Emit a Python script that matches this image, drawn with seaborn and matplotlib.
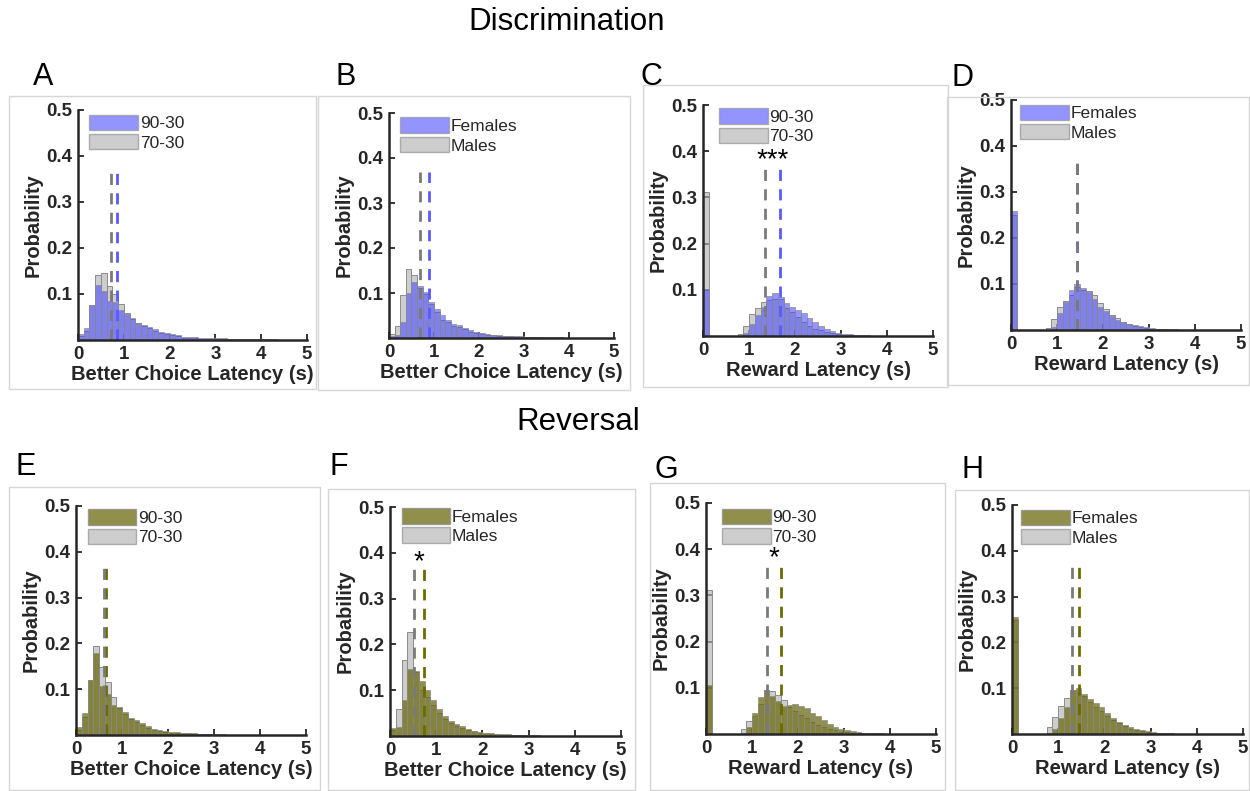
import numpy as np
import matplotlib
matplotlib.use('Agg')
from matplotlib import pyplot as plt
from matplotlib.patches import Patch, Rectangle
import seaborn as sns

sns.set_style('ticks')
plt.rcParams['font.family'] = ['Liberation Sans', 'DejaVu Sans']

# 40 bins of 0.125 s between 0 and 5 s
NBINS = 40
BINW = 0.125
CENTERS = BINW / 2 + BINW * np.arange(NBINS)


def pad(vals):
    return list(vals) + [0.0] * (NBINS - len(vals))


# --- Discrimination ---
A_9030 = pad([0.013, 0.026, 0.076, 0.120, 0.107, 0.085, 0.083, 0.065, 0.056, 0.047,
              0.038, 0.033, 0.028, 0.023, 0.018, 0.015, 0.012, 0.010, 0.007, 0.006,
              0.006, 0.005, 0.005, 0.004, 0.004, 0.004, 0.003, 0.003, 0.003, 0.003,
              0.002, 0.002, 0.002, 0.002, 0.002, 0.001, 0.001, 0.001, 0.001, 0.001])
A_7030 = pad([0.008, 0.020, 0.077, 0.141, 0.145, 0.118, 0.100, 0.078, 0.059, 0.045,
              0.036, 0.030, 0.026, 0.020, 0.016, 0.012, 0.010, 0.008, 0.005, 0.004,
              0.004, 0.003, 0.003, 0.002, 0.002, 0.002, 0.002, 0.001, 0.001, 0.001,
              0.001, 0.001, 0.001, 0.001])
B_fem = pad([0.004, 0.007, 0.036, 0.099, 0.124, 0.116, 0.102, 0.081, 0.064, 0.052,
             0.041, 0.031, 0.028, 0.023, 0.018, 0.013, 0.011, 0.009, 0.007, 0.006,
             0.005, 0.005, 0.004, 0.004, 0.003, 0.003, 0.003, 0.002, 0.002, 0.002,
             0.002, 0.001, 0.001, 0.001, 0.001, 0.001, 0.001, 0.001])
B_male = pad([0.008, 0.026, 0.096, 0.154, 0.141, 0.112, 0.097, 0.076, 0.058, 0.041,
              0.035, 0.027, 0.024, 0.019, 0.014, 0.011, 0.009, 0.007, 0.006, 0.005,
              0.004, 0.004, 0.003, 0.003, 0.002, 0.002, 0.002, 0.001, 0.001, 0.001,
              0.001, 0.001])
C_9030 = pad([0.102, 0, 0, 0, 0, 0, 0.001, 0.006, 0.025, 0.045,
              0.063, 0.087, 0.092, 0.085, 0.072, 0.062, 0.057, 0.049, 0.039, 0.031,
              0.022, 0.016, 0.011, 0.007, 0.005, 0.004, 0.003, 0.002, 0.002, 0.001,
              0.001, 0.001])
C_7030 = pad([0.312, 0, 0, 0, 0, 0, 0.004, 0.022, 0.047, 0.060,
              0.073, 0.078, 0.080, 0.081, 0.061, 0.052, 0.041, 0.031, 0.022, 0.016,
              0.012, 0.009, 0.006, 0.004, 0.003, 0.002, 0.001, 0.001, 0.001])
D_fem = pad([0.258, 0, 0, 0, 0, 0, 0, 0.007, 0.038, 0.060,
             0.086, 0.099, 0.091, 0.082, 0.067, 0.051, 0.041, 0.030, 0.022, 0.017,
             0.013, 0.010, 0.008, 0.006, 0.004, 0.003, 0.003, 0.002, 0.002, 0.001,
             0.001])
D_male = pad([0.250, 0, 0, 0, 0, 0, 0.004, 0.024, 0.051, 0.064,
              0.075, 0.093, 0.086, 0.084, 0.075, 0.059, 0.046, 0.033, 0.025, 0.017,
              0.012, 0.009, 0.006, 0.004, 0.003, 0.002, 0.002, 0.001, 0.001, 0.001,
              0.001])

# --- Reversal ---
E_9030 = pad([0.018, 0.047, 0.120, 0.178, 0.107, 0.090, 0.066, 0.062, 0.050, 0.038,
              0.032, 0.026, 0.019, 0.014, 0.010, 0.008, 0.006, 0.006, 0.005, 0.005,
              0.004, 0.003, 0.003, 0.002, 0.002, 0.002, 0.001, 0.001, 0.001, 0.001,
              0.001])
E_7030 = pad([0.012, 0.040, 0.120, 0.194, 0.149, 0.115, 0.083, 0.058, 0.045, 0.034,
              0.028, 0.022, 0.016, 0.012, 0.009, 0.007, 0.005, 0.005, 0.004, 0.004,
              0.003, 0.002, 0.002, 0.002, 0.001, 0.001, 0.001, 0.001])
F_fem = pad([0.017, 0.020, 0.078, 0.146, 0.142, 0.120, 0.100, 0.078, 0.059, 0.043,
             0.033, 0.027, 0.021, 0.016, 0.012, 0.009, 0.007, 0.006, 0.005, 0.004,
             0.004, 0.003, 0.003, 0.002, 0.002, 0.002, 0.001, 0.001, 0.001])
F_male = pad([0.013, 0.060, 0.167, 0.228, 0.140, 0.100, 0.085, 0.068, 0.050, 0.037,
              0.028, 0.022, 0.017, 0.013, 0.010, 0.007, 0.006, 0.005, 0.004, 0.003,
              0.003, 0.002, 0.002, 0.001, 0.001, 0.001, 0.001])
G_9030 = pad([0.105, 0, 0, 0, 0, 0, 0.003, 0.015, 0.045, 0.080,
              0.095, 0.082, 0.071, 0.061, 0.063, 0.066, 0.061, 0.056, 0.045, 0.038,
              0.031, 0.022, 0.016, 0.010, 0.008, 0.006, 0.004, 0.003, 0.003, 0.002,
              0.002, 0.001])
G_7030 = pad([0.311, 0, 0, 0, 0, 0, 0.010, 0.028, 0.040, 0.064,
              0.095, 0.093, 0.085, 0.073, 0.058, 0.050, 0.042, 0.034, 0.026, 0.020,
              0.015, 0.011, 0.008, 0.005, 0.004, 0.003, 0.002, 0.002, 0.001, 0.001,
              0.001])
H_fem = pad([0.255, 0, 0, 0, 0, 0, 0.003, 0.010, 0.036, 0.058,
             0.095, 0.100, 0.088, 0.076, 0.067, 0.058, 0.045, 0.034, 0.027, 0.020,
             0.015, 0.010, 0.008, 0.006, 0.004, 0.003, 0.002, 0.002, 0.001, 0.001,
             0.001])
H_male = pad([0.250, 0, 0, 0, 0, 0, 0.016, 0.038, 0.061, 0.078,
              0.095, 0.090, 0.082, 0.070, 0.060, 0.050, 0.040, 0.030, 0.023, 0.017,
              0.012, 0.008, 0.006, 0.004, 0.003, 0.002, 0.001, 0.001, 0.001])

# medians (dashed lines): (coloured group, grey group)
MEDIANS = {
    'A': (0.85, 0.73), 'B': (0.88, 0.69), 'C': (1.68, 1.35), 'D': (1.44, 1.44),
    'E': (0.66, 0.60), 'F': (0.73, 0.53), 'G': (1.64, 1.32), 'H': (1.44, 1.30),
}
STARS = {'C': '***', 'F': '*', 'G': '*'}

LAB_COND = ['90-30', '70-30']
LAB_SEX = ['Females', 'Males']
XL_CHOICE = 'Better Choice Latency (s)'
XL_REWARD = 'Reward Latency (s)'

BLUE = '#4d4dff'
OLIVE = '#6b6b10'
GREY = '#b3b3b3'

W, H = 1250, 791
fig = plt.figure(figsize=(W / 100, H / 100), dpi=100)

# panel: letter, colour data, grey data, labels, xlabel, colour,
#        axes rect in px (x0, y_bottom, x1, y_top), letter pos, frame box px, legend anchor
panels = [
    ('A', A_9030, A_7030, LAB_COND, XL_CHOICE, BLUE, (78, 340, 307, 110), (33, 77), (9, 96, 316, 389), (0.05, 0.98)),
    ('B', B_fem, B_male, LAB_SEX, XL_CHOICE, BLUE, (389, 338, 614, 113), (336, 77), (318, 96, 630, 390), (0.05, 0.98)),
    ('C', C_9030, C_7030, LAB_COND, XL_REWARD, BLUE, (703, 336, 933, 105), (641, 77), (643, 85, 948, 387), (0.07, 0.985)),
    ('D', D_fem, D_male, LAB_SEX, XL_REWARD, BLUE, (1011, 330, 1241, 100), (951, 78), (947, 97, 1249, 385), (0.04, 0.98)),
    ('E', E_9030, E_7030, LAB_COND, XL_CHOICE, OLIVE, (76, 735, 306, 506), (15, 467), (9, 487, 320, 790), (0.05, 0.985)),
    ('F', F_fem, F_male, LAB_SEX, XL_CHOICE, OLIVE, (390, 736, 621, 507), (329, 467), (328, 489, 635, 790), (0.05, 0.995)),
    ('G', G_9030, G_7030, LAB_COND, XL_REWARD, OLIVE, (706, 734, 936, 503), (655, 470), (650, 483, 945, 790), (0.07, 0.975)),
    ('H', H_fem, H_male, LAB_SEX, XL_REWARD, OLIVE, (1012, 734, 1243, 505), (962, 470), (955, 490, 1249, 790), (0.04, 0.98)),
]

for letter, col_vals, grey_vals, labels, xlabel, col, rect, lpos, box, legpos in panels:
    x0, yb, x1, yt = rect
    ax = fig.add_axes([x0 / W, 1 - yb / H, (x1 - x0) / W, (yb - yt) / H])

    fig.add_artist(Rectangle((box[0] / W, 1 - box[3] / H), (box[2] - box[0]) / W,
                             (box[3] - box[1]) / H, transform=fig.transFigure,
                             fill=False, edgecolor='#d6d6d6', lw=1.0))

    col_alpha = 0.6 if col == BLUE else 0.75
    sns.histplot(x=CENTERS, weights=grey_vals, binwidth=BINW, binrange=(0, 5), ax=ax,
                 color=GREY, alpha=0.65, edgecolor='#8c8c8c', linewidth=0.7)
    sns.histplot(x=CENTERS, weights=col_vals, binwidth=BINW, binrange=(0, 5), ax=ax,
                 color=col, alpha=col_alpha, edgecolor='#8c8c8c', linewidth=0.5)

    m_col, m_grey = MEDIANS[letter]
    dash_col = '#5a5aff' if col == BLUE else '#6b6b00'
    ax.plot([m_col, m_col], [0, 0.37], ls=(0, (4, 3)), color=dash_col, lw=2)
    ax.plot([m_grey, m_grey], [0, 0.37], ls=(0, (4, 3)), color='#7a7a7a', lw=2)
    if letter in STARS:
        ax.text((m_col + m_grey) / 2, 0.352, STARS[letter], ha='center', va='bottom',
                fontsize=20, color='black')

    ax.set_xlim(0, 5)
    ax.set_ylim(0, 0.5)
    ax.set_xticks([0, 1, 2, 3, 4, 5])
    ax.set_yticks([0.1, 0.2, 0.3, 0.4, 0.5])
    ax.set_yticklabels(['0.1', '0.2', '0.3', '0.4', '0.5'])
    ax.tick_params(direction='in', length=4, width=1.3, labelsize=13.5,
                   colors='#262626', pad=4)
    for t in ax.get_xticklabels() + ax.get_yticklabels():
        t.set_fontweight('bold')
    for side in ['top', 'right']:
        ax.spines[side].set_visible(False)
    for side in ['left', 'bottom']:
        ax.spines[side].set_linewidth(1.8)
        ax.spines[side].set_color('#262626')
    ax.set_xlabel(xlabel, fontsize=14.5, fontweight='bold', color='#262626', labelpad=2)
    ax.set_ylabel('Probability', fontsize=14.5, fontweight='bold', color='#262626', labelpad=3)
    ax.set_facecolor('none')

    handles = [Patch(facecolor=col, alpha=col_alpha, edgecolor='#8c8c8c'),
               Patch(facecolor=GREY, alpha=0.65, edgecolor='#8c8c8c')]
    ax.legend(handles, labels, loc='upper left', bbox_to_anchor=legpos, frameon=False,
              fontsize=12.5, handlelength=2.8, handleheight=1.0, handletextpad=0.1,
              labelspacing=0.15, borderpad=0, borderaxespad=0)

    fig.text(lpos[0] / W, 1 - lpos[1] / H, letter, fontsize=22, ha='left', va='center',
             color='black')

fig.text(567 / W, 1 - 22 / H, 'Discrimination', fontsize=22.5, ha='center', va='center',
         color='black')
fig.text(578 / W, 1 - 422 / H, 'Reversal', fontsize=22.5, ha='center', va='center',
         color='black')

fig.savefig('out.png', dpi=100)
